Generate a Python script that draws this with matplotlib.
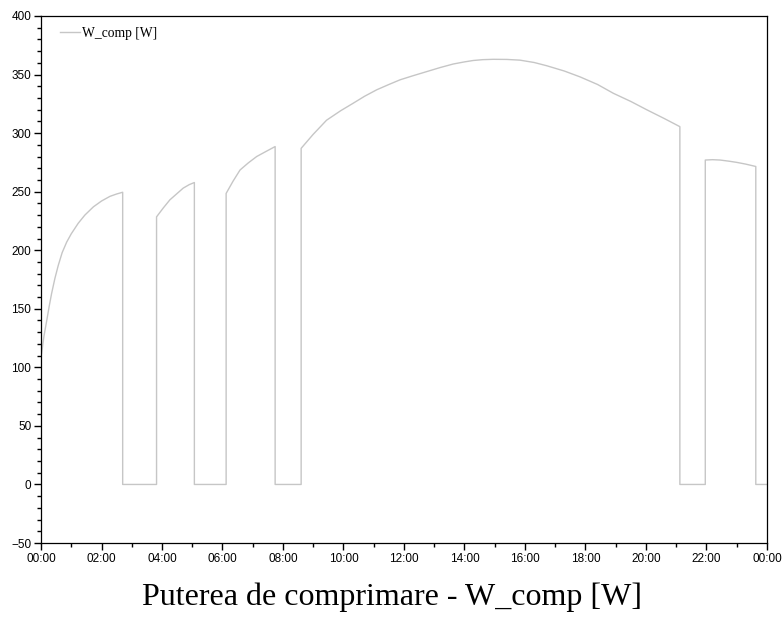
import matplotlib
matplotlib.use('Agg')
import matplotlib.pyplot as plt
from matplotlib.ticker import MultipleLocator, FuncFormatter

# compressor power over one day, hours since 00:00 -> W
# repeated hours mark the on/off switching of the compressor
hours = [0.00, 0.02, 0.10, 0.19, 0.27, 0.35, 0.46, 0.57, 0.70, 0.85,
         1.00, 1.23, 1.45, 1.73, 2.00, 2.28, 2.50, 2.70,
         2.70, 3.82,
         3.82, 4.04, 4.26, 4.48, 4.70, 4.90, 5.07,
         5.07, 6.12,
         6.12, 6.35, 6.58, 6.85, 7.13, 7.45, 7.74,
         7.74, 8.60,
         8.60, 9.00, 9.44, 9.90, 10.32, 10.70, 11.10, 11.50, 11.87,
         12.30, 12.75, 13.20, 13.63, 14.00, 14.29, 14.60, 14.95, 15.40,
         15.83, 16.30, 16.72, 17.30, 17.82, 18.40, 18.92, 19.50, 20.02,
         20.60, 21.12,
         21.12, 21.96,
         21.96, 22.20, 22.45, 22.75, 23.00, 23.30, 23.63,
         23.63, 24.00]
w_comp = [110, 112, 127, 140, 152, 163, 176, 187, 198, 207,
          214, 223, 230, 237, 242, 246, 248, 249.5,
          0, 0,
          228.5, 236, 243, 248, 253, 256, 257.8,
          0, 0,
          248.5, 259, 268.5, 274.5, 280, 284.5, 288.5,
          0, 0,
          287, 299, 311, 319, 325.5, 331.5, 337, 341.5, 345.5,
          349, 352.5, 356, 359, 360.8, 362, 362.7, 363, 362.9,
          362.3, 360.3, 357.5, 353, 348, 341.5, 334, 327, 320,
          312.5, 305.5,
          0, 0,
          277, 277.3, 277, 276, 275, 273.5, 271.5,
          0, 0]

y_ticks = [-50, 0, 50, 100, 150, 200, 250, 300, 350, 400]
title = 'Puterea de comprimare - W_comp [W]'


def hhmm(x, pos):
    h = int(round(x)) % 24
    return '%02d:00' % h


fig = plt.figure(figsize=(7.84, 6.17), dpi=100)
ax = fig.add_axes([0.0523, 0.1199, 0.926, 0.8542])
ax.plot(hours, w_comp, color='#c6c6c6', lw=1.0, label='W_comp [W]')

ax.set_xlim(0, 24)
ax.set_ylim(-50, 400)
ax.set_yticks(y_ticks)
ax.yaxis.set_minor_locator(MultipleLocator(10))
ax.xaxis.set_major_locator(MultipleLocator(2))
ax.xaxis.set_minor_locator(MultipleLocator(1))
ax.xaxis.set_major_formatter(FuncFormatter(hhmm))

ax.tick_params(which='major', direction='out', length=5, width=1,
               labelsize=8.5, pad=2)
ax.tick_params(which='minor', direction='out', length=3, width=1)
for lbl in ax.get_xticklabels() + ax.get_yticklabels():
    lbl.set_family('Liberation Sans')
for s in ax.spines.values():
    s.set_linewidth(0.9)

leg = ax.legend(loc='upper left', bbox_to_anchor=(0.011, 1.0), frameon=False,
                handlelength=1.5, handletextpad=0.15, borderaxespad=0.4,
                prop={'family': 'Liberation Serif', 'size': 9.8})

fig.text(0.5, 0.019, title, ha='center', va='baseline',
         family='Liberation Serif', fontsize=23)

fig.savefig('out.png', dpi=100)
